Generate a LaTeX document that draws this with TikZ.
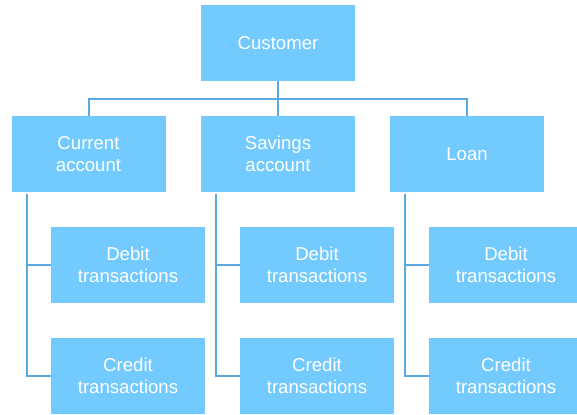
\documentclass[tikz,border=0pt]{standalone}
\usepackage{fontspec}
\setmainfont{Liberation Sans}
\usepackage{tikz}
\usetikzlibrary{positioning}
\definecolor{boxblue}{HTML}{73CAFE}
\definecolor{linkblue}{HTML}{5AA8E0}

\begin{document}
\begin{tikzpicture}[
		x=0.5pt, y=-0.5pt,
		box/.style={fill=boxblue, draw=none, text=white,
				minimum width=77pt, minimum height=38pt, inner sep=0pt,
				font=\fontsize{9.3}{11}\selectfont, align=center},
		link/.style={draw=linkblue, line width=1pt}]

	\useasboundingbox (0,0) rectangle (577,415);

	% Top: customer
	\node[box] (cust) at (278,43) {Customer};

	% Accounts
	\node[box] (cur)  at (88.5,154) {Current\\account};
	\node[box] (sav)  at (278,154)  {Savings\\account};
	\node[box] (loan) at (467,154)  {Loan};

	% Transactions
	\node[box] (curdeb)  at (128,265) {Debit\\transactions};
	\node[box] (curcre)  at (128,376) {Credit\\transactions};
	\node[box] (savdeb)  at (317,265) {Debit\\transactions};
	\node[box] (savcre)  at (317,376) {Credit\\transactions};
	\node[box] (loandeb) at (506,265) {Debit\\transactions};
	\node[box] (loancre) at (506,376) {Credit\\transactions};

	% Links
	\coordinate (bus) at (278,99);
	\draw[link] (cust.south) -- (bus);
	\draw[link] (cur.north) |- (bus) -| (loan.north);
	\draw[link] (bus) -- (sav.north);

	\draw[link] ([xshift=7.75pt,yshift=-1pt]cur.south west) |- (curdeb.west);
	\draw[link] ([xshift=7.75pt,yshift=-1pt]cur.south west) |- (curcre.west);
	\draw[link] ([xshift=7.75pt,yshift=-1pt]sav.south west) |- (savdeb.west);
	\draw[link] ([xshift=7.75pt,yshift=-1pt]sav.south west) |- (savcre.west);
	\draw[link] ([xshift=7.75pt,yshift=-1pt]loan.south west) |- (loandeb.west);
	\draw[link] ([xshift=7.75pt,yshift=-1pt]loan.south west) |- (loancre.west);

\end{tikzpicture}
\end{document}
